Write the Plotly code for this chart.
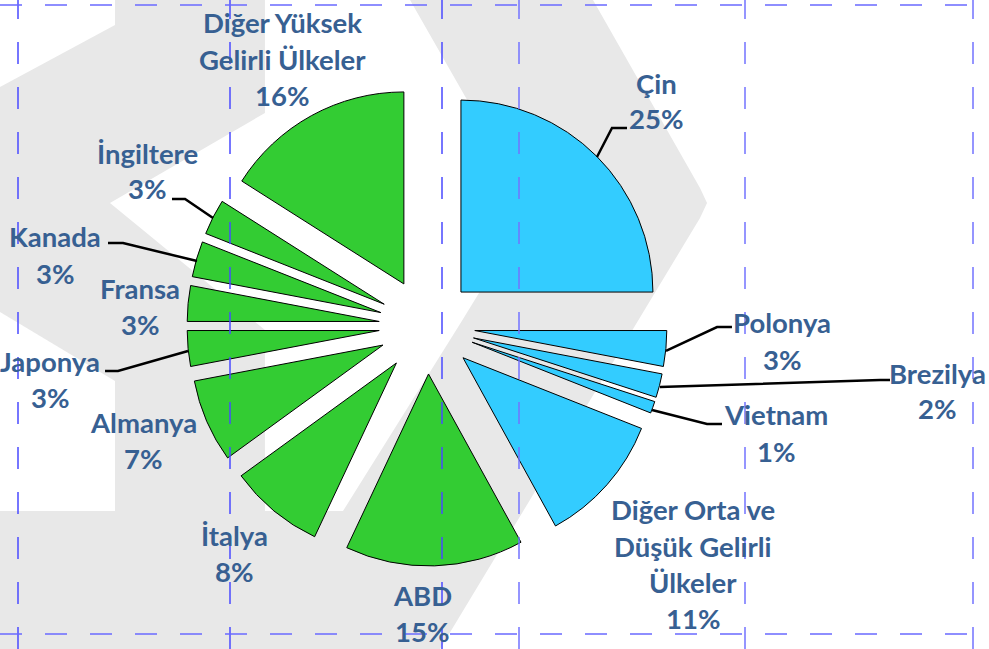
import plotly.graph_objects as go

# data (clockwise from 12 o'clock)
countries = ["Çin", "Polonya", "Brezilya", "Vietnam",
             "Diğer Orta ve Düşük Gelirli Ülkeler", "ABD", "İtalya", "Almanya",
             "Japonya", "Fransa", "Kanada", "İngiltere", "Diğer Yüksek Gelirli Ülkeler"]
shares = [25, 3, 2, 1, 11, 15, 8, 7, 3, 3, 3, 3, 16]
income_group = ["orta-düşük"] * 5 + ["yüksek"] * 8
label_text = ["Çin", "Polonya", "Brezilya", "Vietnam",
              "Diğer Orta ve<br>Düşük Gelirli<br>Ülkeler", "ABD", "İtalya", "Almanya",
              "Japonya", "Fransa", "Kanada", "İngiltere", "Diğer Yüksek<br>Gelirli Ülkeler"]

W, H = 989, 649
group_colors = {"orta-düşük": "#33CCFF", "yüksek": "#33CC33"}
text_color = "#376092"
bg_gray = "#E8E8E8"

# label anchors in pixels: centre x, baseline of first line
label_pos = [(656, 93), (782, 333), (937, 383), (776, 425), (693, 520), (422, 605),
             (234, 545), (143, 432), (50, 371), (140, 298), (55, 247), (147, 163),
             (282, 33)]
line_gap = 36

leaders = {
    "Çin": [(597, 157), (612, 128), (627, 128)],
    "İngiltere": [(213, 218), (185, 199), (172, 199)],
    "Kanada": [(197, 261), (123, 243), (108, 243)],
    "Japonya": [(188, 351), (118, 371), (105, 371)],
    "Polonya": [(666, 351), (717, 327), (732, 327)],
    "Brezilya": [(660, 387), (880, 380), (890, 380)],
    "Vietnam": [(652, 410), (707, 424), (722, 424)],
}

# pie geometry: centre (427, 326) px, radius 192 px, pull 0.25
cx, cy, r, pull = 427, 326, 192, 0.25
half = r * (1 + pull)


def px(x, y):
    return x / W, 1 - y / H


def path(points, close=True):
    pts = [px(x, y) for x, y in points]
    d = "M " + " L ".join(f"{x:.4f},{y:.4f}" for x, y in pts)
    return d + (" Z" if close else "")


fig = go.Figure()

fig.add_trace(go.Pie(
    labels=countries,
    values=shares,
    sort=False,
    direction="clockwise",
    rotation=0,
    pull=[pull] * len(shares),
    marker=dict(colors=[group_colors[g] for g in income_group],
                line=dict(color="black", width=1)),
    textinfo="none",
    hoverinfo="label+percent",
    showlegend=False,
    domain=dict(x=[(cx - half) / W, (cx + half) / W],
                y=[1 - (cy + half) / H, 1 - (cy - half) / H]),
))

shapes = []
# white parts of the gray watermark
white_areas = [
    [(0, 0), (115, 0), (115, 25), (0, 87)],
    [(265, 0), (265, 113), (110, 203), (265, 330), (265, 511), (343, 511),
     (460, 324), (530, 210), (410, 0)],
    [(593, 0), (700, 188), (707, 203), (700, 218), (440, 649), (989, 649), (989, 0)],
    [(0, 312), (115, 381), (115, 511), (0, 511)],
]
for poly in white_areas:
    shapes.append(dict(type="path", path=path(poly), xref="paper", yref="paper",
                       fillcolor="white", line=dict(width=0), layer="below"))

for name, pts in leaders.items():
    shapes.append(dict(type="path", path=path(pts, close=False), xref="paper", yref="paper",
                       line=dict(color="black", width=2.5), layer="above"))

# dashed guide lines
for x, col in [(18, "#4A4AFF"), (230, "#4A4AFF"), (442, "#4A4AFF"),
               (519, "#7373FF"), (745, "#7373FF"), (973, "#7373FF")]:
    shapes.append(dict(type="line", xref="paper", yref="paper",
                       x0=x / W, x1=x / W, y0=0, y1=1,
                       line=dict(color=col, width=1.5, dash="22px,23px"), layer="above"))
for y in [5, 634]:
    shapes.append(dict(type="line", xref="paper", yref="paper",
                       x0=0, x1=1, y0=1 - y / H, y1=1 - y / H,
                       line=dict(color="#6A6AFF", width=1.5, dash="22px,23px"), layer="above"))

annotations = []
for text, share, (lx, ly) in zip(label_text, shares, label_pos):
    lines = text.split("<br>") + [f"{share}%"]
    for i, line in enumerate(lines):
        x, y = px(lx, ly + i * line_gap - 10)
        annotations.append(dict(
            x=x, y=y, xref="paper", yref="paper", text=line, showarrow=False,
            xanchor="center", yanchor="middle",
            font=dict(family="Lato", size=27.5, color=text_color, weight="bold"),
        ))

fig.update_layout(
    width=W, height=H,
    margin=dict(l=0, r=0, t=0, b=0),
    paper_bgcolor=bg_gray,
    plot_bgcolor=bg_gray,
    shapes=shapes,
    annotations=annotations,
)

fig.write_html("out.html", config={"displayModeBar": False},
               post_script="document.body.style.margin = '0';")
